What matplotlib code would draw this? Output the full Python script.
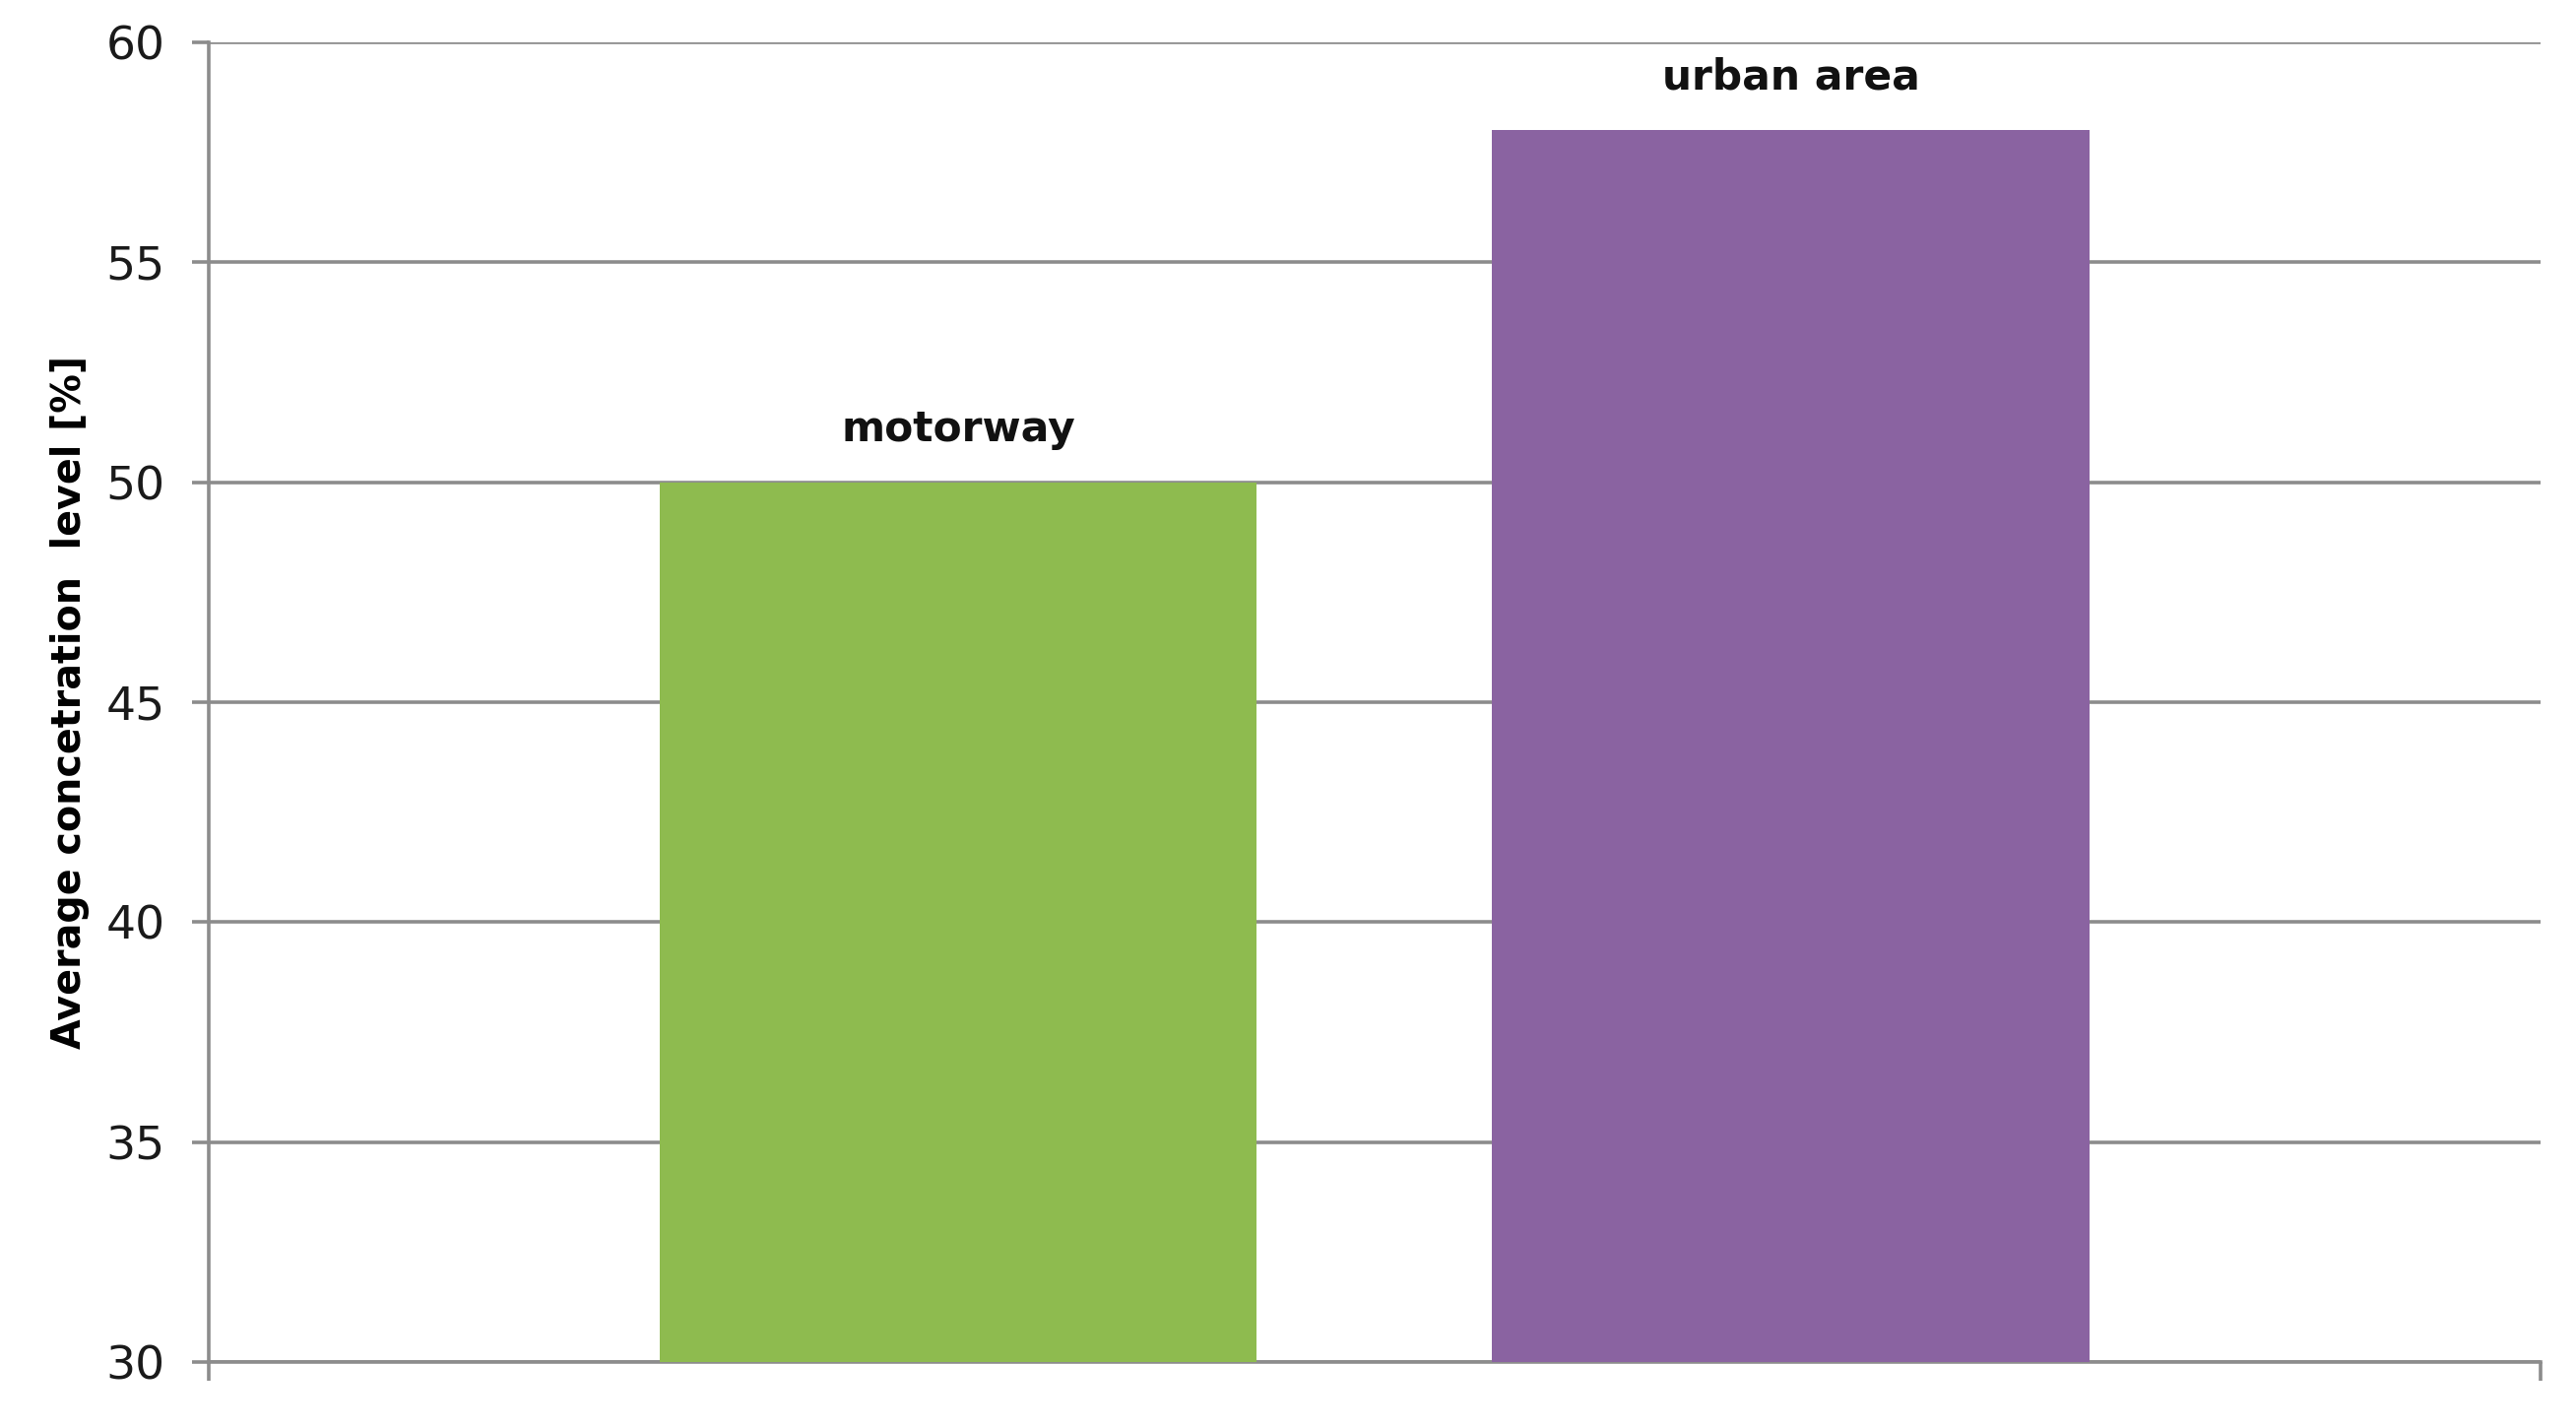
import matplotlib
matplotlib.use('Agg')
import matplotlib.pyplot as plt

# 数据
categories = ['motorway', 'urban area']
values = [50, 58]
bar_colors = ['#8EBB4F', '#8A63A1']
y_ticks = [30, 35, 40, 45, 50, 55, 60]
y_label = 'Average concetration  level [%]'

plt.rcParams['font.family'] = ['DejaVu Sans']

fig = plt.figure(figsize=(26.16, 14.5), dpi=100)
ax = fig.add_axes([0.081, 0.0462, 0.9052, 0.9241])

grid_color = '#8C8C8C'
bar_w = 0.512
offsets = [-0.357, 0.357]  # 一个类别，两个系列

for off, v, c, name in zip(offsets, values, bar_colors, categories):
    ax.bar(off, v - 30, bottom=30, width=bar_w, color=c, zorder=3)
    ax.annotate(name, (off, v), xytext=(0, 39), textcoords='offset points',
                ha='center', va='center', fontsize=30.5, fontweight='bold', color='#111111')

ax.set_xlim(-1, 1)
ax.set_ylim(30, 60)
ax.set_yticks(y_ticks)
ax.set_yticklabels([str(t) for t in y_ticks], fontsize=34, color='#1a1a1a')
ax.set_xticks([-1, 1])
ax.set_xticklabels(['', ''])

ax.grid(axis='y', color=grid_color, linewidth=2.6, zorder=0)
for s in ['top', 'right']:
    ax.spines[s].set_visible(False)
for s in ['left', 'bottom']:
    ax.spines[s].set_color(grid_color)
    ax.spines[s].set_linewidth(2.6)
ax.tick_params(axis='y', direction='out', length=12, width=2.6, color=grid_color, pad=20)
ax.tick_params(axis='x', direction='out', length=14, width=2.6, color=grid_color)

ax.set_ylabel(y_label, fontsize=28.5, fontweight='bold', labelpad=12)

fig.savefig('out.png', dpi=100, facecolor='white')
